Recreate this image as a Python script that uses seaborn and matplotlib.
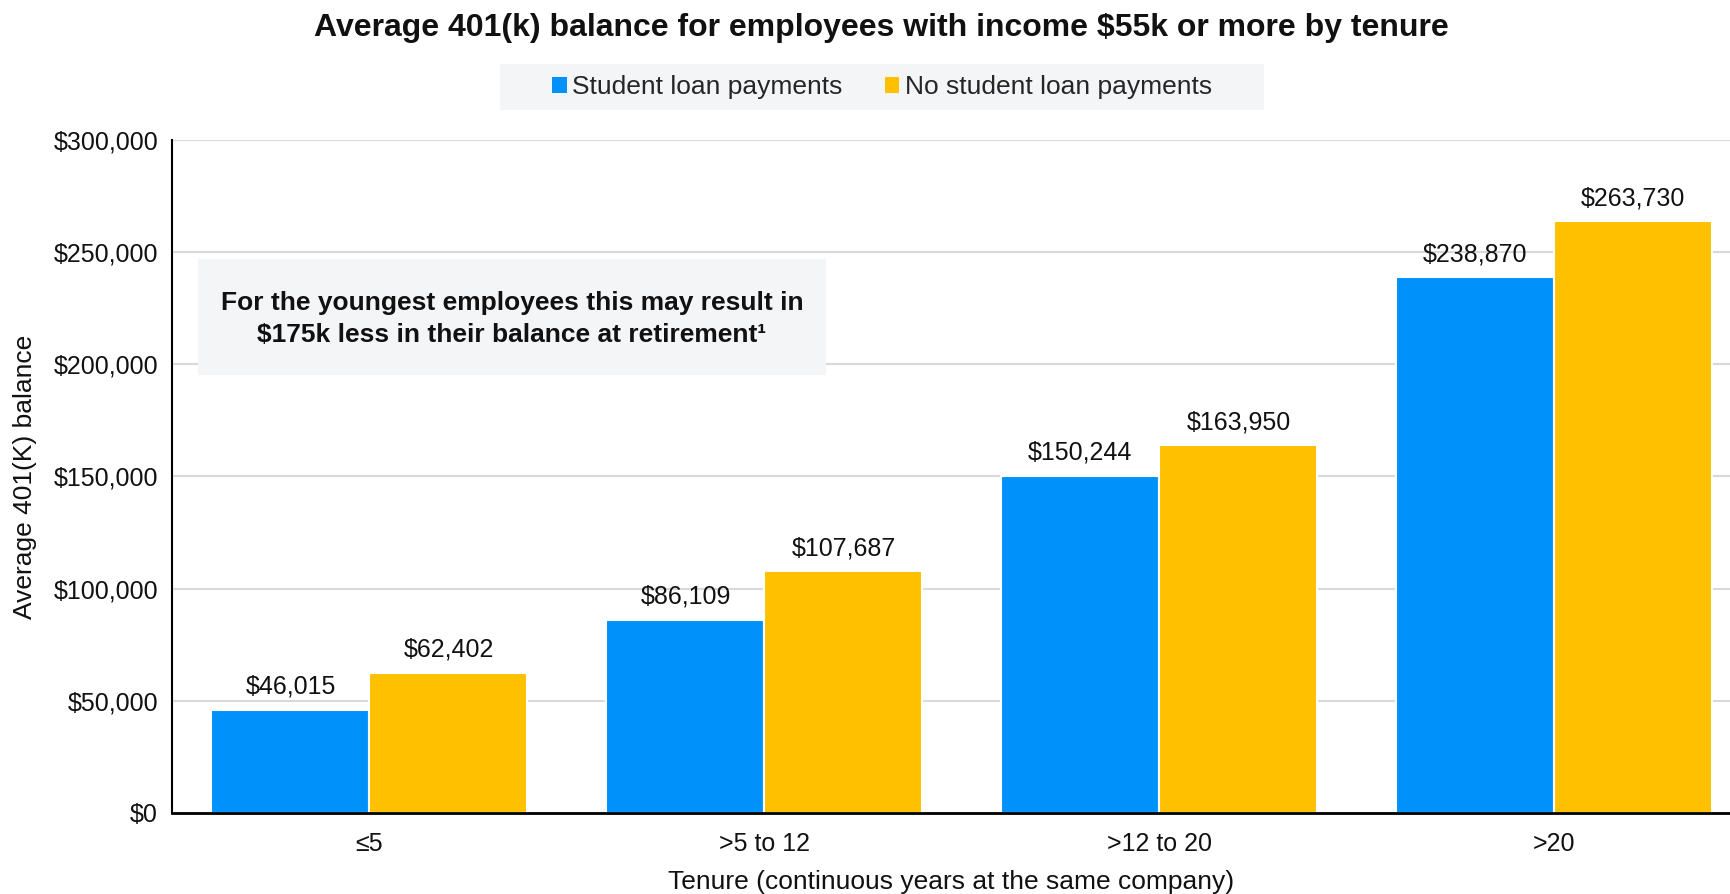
import matplotlib
matplotlib.use("Agg")
import matplotlib.pyplot as plt
from matplotlib.patches import Rectangle
from matplotlib.ticker import FuncFormatter
import pandas as pd
import seaborn as sns

# Data
tenure = ["≤5", ">5 to 12", ">12 to 20", ">20"]
student_loan = [46015, 86109, 150244, 238870]
no_student_loan = [62402, 107687, 163950, 263730]
groups = ["Student loan payments", "No student loan payments"]
colors = ["#0091FA", "#FFC000"]

df = pd.DataFrame({
    "tenure": tenure * 2,
    "balance": student_loan + no_student_loan,
    "group": [groups[0]] * len(tenure) + [groups[1]] * len(tenure),
})

sns.set_theme(style="white")
plt.rcParams["font.family"] = ["Liberation Sans", "DejaVu Sans"]

W, H = 1731, 894
fig = plt.figure(figsize=(W / 100, H / 100), dpi=100)
ax = fig.add_axes([172 / W, (H - 813) / H, (W - 172) / W, (813 - 140) / H])

sns.barplot(data=df, x="tenure", y="balance", hue="group", order=tenure,
            hue_order=groups, palette=colors, width=0.8, edgecolor="white",
            linewidth=1.5, saturation=1, legend=False, ax=ax)

ax.set_ylim(0, 300000)
ax.set_xlim(-0.5, 3.447)
ax.set_yticks(range(0, 300001, 50000))
ax.yaxis.set_major_formatter(FuncFormatter(lambda v, p: f"${v:,.0f}"))
ax.grid(axis="y", color="#D9D9D9", linewidth=1.5)
ax.set_axisbelow(True)
for s in ["top", "right"]:
    ax.spines[s].set_visible(False)
ax.spines["left"].set_color("black")
ax.spines["left"].set_linewidth(1.5)
ax.spines["bottom"].set_color("black")
ax.spines["bottom"].set_linewidth(2)
ax.tick_params(axis="both", length=0, labelsize=18, colors="#111111")
ax.tick_params(axis="x", pad=14)
ax.tick_params(axis="y", pad=10)

ax.set_ylabel("Average 401(K) balance", fontsize=19, color="#111111", labelpad=12)
ax.set_xlabel("Tenure (continuous years at the same company)", fontsize=19,
              color="#111111", labelpad=10)

for cont in ax.containers:
    ax.bar_label(cont, labels=[f"${v:,.0f}" for v in cont.datavalues],
                 fontsize=18, padding=8, color="#111111")

# Title
fig.text(0.509, 1 - 28 / H, "Average 401(k) balance for employees with income $55k or more by tenure",
         ha="center", va="center", fontsize=23, fontweight="bold", color="#111111")

# Legend band
fig.patches.append(Rectangle((500 / W, (H - 110) / H), 764 / W, 46 / H,
                             transform=fig.transFigure, facecolor="#F4F5F7",
                             edgecolor="none", zorder=0))
handles = [Rectangle((0, 0), 1, 1, facecolor=c, edgecolor="none") for c in colors]
fig.legend(handles, groups, loc="center", bbox_to_anchor=(882 / W, 1 - 87 / H),
           ncol=2, frameon=False, fontsize=19, handlelength=0.55, handleheight=0.55,
           handletextpad=0.2, columnspacing=1.6)

# Callout box
fig.patches.append(Rectangle((198 / W, (H - 375) / H), 628 / W, 116 / H,
                             transform=fig.transFigure, facecolor="#F4F5F7",
                             edgecolor="none", zorder=1))
fig.text(512 / W, 1 - 319 / H,
         "For the youngest employees this may result in\n$175k less in their balance at retirement¹",
         ha="center", va="center", fontsize=19, fontweight="bold", color="#111111",
         linespacing=1.45, zorder=2)

fig.savefig("out.png", dpi=100)
